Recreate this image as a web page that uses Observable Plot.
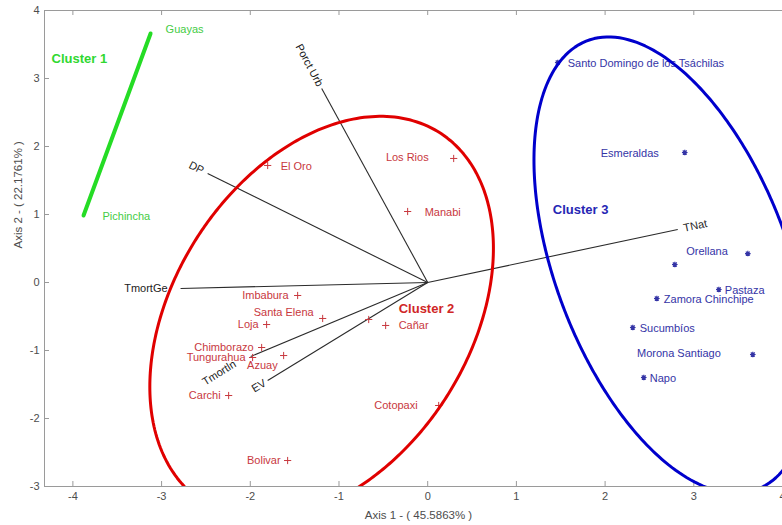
<!DOCTYPE html>
<html>
<head>
<meta charset="utf-8">
<script src="https://cdn.jsdelivr.net/npm/d3@7"></script>
<script src="https://cdn.jsdelivr.net/npm/@observablehq/plot@0.6"></script>
<style>
  html, body { margin: 0; padding: 0; background: #fff; }
  #chart svg { display: block; }
</style>
</head>
<body>
<div id="chart"></div>
<script>
// ---- Province scores on the first two principal axes ----
const cluster1Names = ["Guayas", "Pichincha"];
const cluster1X = [-3.124, -3.880];
const cluster1Y = [3.662, 0.985];

const cluster2Names = ["El Oro", "Los Rios", "Manabi", "Imbabura", "Santa Elena", "Loja", "",
  "Cañar", "Chimborazo", "Tungurahua", "Azuay", "Carchi", "Cotopaxi", "Bolivar"];
const cluster2X = [-1.804, 0.293, -0.226, -1.466, -1.184, -1.816, -0.665,
  -0.474, -1.872, -1.974, -1.624, -2.244, 0.124, -1.579];
const cluster2Y = [1.721, 1.824, 1.044, -0.191, -0.529, -0.618, -0.544,
  -0.632, -0.956, -1.103, -1.074, -1.662, -1.809, -2.618];

const cluster3Names = ["Santo Domingo de los Tsáchilas", "Esmeraldas", "Orellana", "",
  "Pastaza", "Zamora Chinchipe", "Sucumbíos", "Morona Santiago", "Napo"];
const cluster3X = [1.466, 2.898, 3.609, 2.786, 3.282, 2.583, 2.312, 3.665, 2.436];
const cluster3Y = [3.235, 1.912, 0.426, 0.265, -0.103, -0.235, -0.662, -1.059, -1.397];

// ---- Variable loadings (biplot vectors) ----
const vectorNames = ["Porct Urb", "DP", "TmortGe", "TNat", "Tmortln", "EV"];
const vectorX = [-1.195, -2.481, -2.786, 2.819, -1.996, -1.804];
const vectorY = [2.853, 1.603, -0.088, 0.779, -1.088, -1.441];

// ---- Points sampled on each cluster boundary (an ellipse is fitted through them) ----
const redBoundaryX = [-2.729, -2.932, -3.079, -3.101, -3.045, -2.921, -2.729, -2.447, -2.131, -1.996,
  -1.771, -1.624, -1.320, -0.981, -0.496, -0.192, 0.113, 0.485, 0.688, 0.756, 0.744, 0.632, 0.406,
  0.124, -0.305, -0.733];
const redBoundaryY = [-3.0, -2.721, -2.221, -1.662, -0.750, -0.118, 0.471, 0.912, 1.382, 1.544,
  1.838, 2.044, 2.206, 2.338, 2.426, 2.397, 2.235, 1.691, 0.956, 0.471, 0.206, -0.515, -1.250,
  -1.809, -2.471, -3.0];

const blueBoundaryX = [3.192, 2.628, 2.177, 1.725, 1.421, 1.331, 1.241, 1.207, 1.274, 1.466, 1.804,
  2.086, 2.549, 2.932, 3.304, 3.677, 4.004, 3.812, 4.004];
const blueBoundaryY = [-3.0, -2.574, -1.985, -1.0, -0.015, 0.618, 1.206, 1.794, 2.676, 3.235, 3.603,
  3.632, 3.412, 3.015, 2.426, 1.691, 0.956, -3.0, -2.721];

// ---- Cluster captions ----
const clusterCaptions = ["Cluster 1", "Cluster 2", "Cluster 3"];
const clusterCaptionX = [-4.240, -0.327, 1.410];
const clusterCaptionY = [3.294, -0.382, 1.070];

// ---- Axes ----
const xTicks = [-4, -3, -2, -1, 0, 1, 2, 3, 4];
const yTicks = [-3, -2, -1, 0, 1, 2, 3, 4];
const xTitle = "Axis 1 - ( 45.5863% )";
const yTitle = "Axis 2 - ( 22.1761% )";

// ---- Layout ----
const W = 782, H = 525;
const M = {top: 10, right: 0, bottom: 39, left: 44};
const xDomain = [-4.32, 4.0];
const yDomain = [-3, 4];
const kx = (W - M.left - M.right) / (xDomain[1] - xDomain[0]); // px per unit
const ky = (H - M.top - M.bottom) / (yDomain[1] - yDomain[0]);

// label placement for each province: [anchor, dx px, dy px]
const labelPlacement = {
  "Guayas": ["start", 15, -4], "Pichincha": ["start", 19, 1],
  "El Oro": ["start", 13, 1], "Los Rios": ["end", -25, -1], "Manabi": ["start", 17, 1],
  "Imbabura": ["end", -9, 0], "Santa Elena": ["end", -9, -6], "Loja": ["end", -8, 0],
  "Cañar": ["start", 13, 0], "Chimborazo": ["end", -8, 0], "Tungurahua": ["end", -7, 0],
  "Azuay": ["end", -6, 10], "Carchi": ["end", -8, 0], "Cotopaxi": ["end", -21, 0],
  "Bolivar": ["end", -7, 0],
  "Santo Domingo de los Tsáchilas": ["start", 10, 1], "Esmeraldas": ["end", -26, 1],
  "Orellana": ["end", -20, -2], "Pastaza": ["start", 6, 1], "Zamora Chinchipe": ["start", 7, 1],
  "Sucumbíos": ["start", 7, 1], "Morona Santiago": ["end", -32, -1], "Napo": ["start", 6, 1]
};
// vector label gap (px beyond the tip) and rotation (deg)
const vectorLabelGap = [3, 5, 13, 6, 17, 3];
const vectorLabelRotate = [62, 27, 0, -12, -32, -32];

const colors = {
  axis: "#9a9a9a", tickText: "#4d4d4d", vector: "#2b2b2b",
  green: "#25dc25", greenText: "#45cc45", greenCaption: "#30d830",
  red: "#e00000", redText: "#c8383e", redCaption: "#d02626",
  blue: "#0000cc", blueText: "#3434a6", blueCaption: "#2626b4"
};

const rows = (names, xs, ys) => names.map((name, i) => ({name, x: xs[i], y: ys[i]}));
const pts1 = rows(cluster1Names, cluster1X, cluster1Y);
const pts2 = rows(cluster2Names, cluster2X, cluster2Y);
const pts3 = rows(cluster3Names, cluster3X, cluster3Y);

// Least-squares conic a u² + b uv + c v² + d u + e v = 1 (in pixel-scaled units),
// returned as a closed outline in data coordinates.
function fitEllipse(xs, ys, steps = 360) {
  const s = 100;
  const N = Array.from({length: 5}, () => new Array(5).fill(0));
  const rhs = new Array(5).fill(0);
  xs.forEach((x, i) => {
    const u = x * kx / s, v = ys[i] * ky / s;
    const row = [u * u, u * v, v * v, u, v];
    for (let j = 0; j < 5; j++) {
      rhs[j] += row[j];
      for (let k = 0; k < 5; k++) N[j][k] += row[j] * row[k];
    }
  });
  // Gaussian elimination
  const A = N.map((r, i) => [...r, rhs[i]]);
  for (let col = 0; col < 5; col++) {
    let piv = col;
    for (let r = col + 1; r < 5; r++) if (Math.abs(A[r][col]) > Math.abs(A[piv][col])) piv = r;
    [A[col], A[piv]] = [A[piv], A[col]];
    for (let r = 0; r < 5; r++) {
      if (r === col) continue;
      const f = A[r][col] / A[col][col];
      for (let c = col; c < 6; c++) A[r][c] -= f * A[col][c];
    }
  }
  const [a, b, c, d, e] = A.map((r, i) => r[5] / r[i]);
  const det = 4 * a * c - b * b;
  const u0 = (b * e - 2 * c * d) / det, v0 = (b * d - 2 * a * e) / det;
  const k = 1 - (a * u0 * u0 + b * u0 * v0 + c * v0 * v0 + d * u0 + e * v0);
  const out = [];
  for (let i = 0; i <= steps; i++) {
    const t = (2 * Math.PI * i) / steps, w0 = Math.cos(t), w1 = Math.sin(t);
    const rr = Math.sqrt(k / (a * w0 * w0 + b * w0 * w1 + c * w1 * w1));
    out.push({x: (u0 + rr * w0) * s / kx, y: (v0 + rr * w1) * s / ky});
  }
  return out;
}
const redOutline = fitEllipse(redBoundaryX, redBoundaryY);
const blueOutline = fitEllipse(blueBoundaryX, blueBoundaryY);

const labelRows = (pts) => pts.filter(d => d.name).map(d => {
  const [anchor, dx, dy] = labelPlacement[d.name];
  return {name: d.name, anchor, x: d.x + dx / kx, y: d.y - dy / ky};
});

const vectors = vectorNames.map((name, i) => {
  const vx = vectorX[i], vy = vectorY[i];
  const px = vx * kx, py = -vy * ky;
  const len = Math.hypot(px, py);
  const g = vectorLabelGap[i];
  return {
    name, x: vx, y: vy,
    lx: vx + (px / len) * g / kx,
    ly: vy - (py / len) * g / ky,
    rotate: vectorLabelRotate[i],
    anchor: vx < 0 ? "end" : "start"
  };
});

// thin plus marker and MATLAB-style asterisk marker
const plusSymbol = {draw(ctx, size) {
  const r = Math.sqrt(size / Math.PI);
  ctx.moveTo(-r, 0); ctx.lineTo(r, 0); ctx.moveTo(0, -r); ctx.lineTo(0, r);
}};
const starSymbol = {draw(ctx, size) {
  const r = Math.sqrt(size / Math.PI), s = r * 0.7071;
  ctx.moveTo(-r, 0); ctx.lineTo(r, 0); ctx.moveTo(0, -r); ctx.lineTo(0, r);
  ctx.moveTo(-s, -s); ctx.lineTo(s, s); ctx.moveTo(-s, s); ctx.lineTo(s, -s);
}};

const textMarks = (pts, fill) => {
  const lab = labelRows(pts);
  return ["start", "end"].map(a => Plot.text(lab.filter(d => d.anchor === a), {
    x: "x", y: "y", text: "name", textAnchor: a, fill, fontSize: 11
  }));
};

const tick = 5;
const chart = Plot.plot({
  width: W, height: H,
  marginTop: M.top, marginRight: M.right, marginBottom: M.bottom, marginLeft: M.left,
  x: {domain: xDomain, label: null},
  y: {domain: yDomain, label: null},
  style: {fontFamily: "'Liberation Sans', Arial, Helvetica, sans-serif", fontSize: "11px", background: "#fff"},
  marks: [
    // frame and inward ticks
    Plot.frame({stroke: colors.axis, strokeWidth: 1}),
    Plot.ruleX(xTicks, {x: d => d, y1: yDomain[0], y2: yDomain[0] + tick / ky, stroke: colors.axis}),
    Plot.ruleX(xTicks, {x: d => d, y1: yDomain[1], y2: yDomain[1] - tick / ky, stroke: colors.axis}),
    Plot.ruleY(yTicks, {y: d => d, x1: xDomain[0], x2: xDomain[0] + tick / kx, stroke: colors.axis}),
    Plot.axisX({ticks: xTicks, tickSize: 0, tickPadding: 6, tickFormat: d => String(d), label: null,
      fill: colors.tickText, fontSize: 11}),
    Plot.axisY({ticks: yTicks, tickSize: 0, tickPadding: 5, tickFormat: d => String(d), label: null,
      fill: colors.tickText, fontSize: 11}),
    Plot.text([xTitle], {frameAnchor: "bottom", dy: 32, dx: 5, text: d => d, fill: colors.tickText, fontSize: 11.5}),
    Plot.text([yTitle], {frameAnchor: "left", dx: -26, rotate: -90, text: d => d, fill: colors.tickText, fontSize: 11.5}),

    // loading vectors
    Plot.link(vectors, {x1: 0, y1: 0, x2: "x", y2: "y", stroke: colors.vector, strokeWidth: 1.1}),
    ...["start", "end"].map(a => Plot.text(vectors.filter(d => d.anchor === a), {
      x: "lx", y: "ly", text: "name", rotate: "rotate", textAnchor: a, fill: "#222", fontSize: 11
    })),

    // province markers
    Plot.dot(pts2, {x: "x", y: "y", symbol: plusSymbol, r: 3.6, fill: "none", stroke: colors.redText, strokeWidth: 1}),
    Plot.dot(pts3, {x: "x", y: "y", symbol: starSymbol, r: 2.8, fill: "none", stroke: colors.blueText, strokeWidth: 1.2}),

    // province labels
    ...textMarks(pts1, colors.greenText),
    ...textMarks(pts2, colors.redText),
    ...textMarks(pts3, colors.blueText),

    // cluster outlines
    Plot.line(pts1, {x: "x", y: "y", stroke: colors.green, strokeWidth: 4}),
    Plot.line(redOutline, {x: "x", y: "y", stroke: colors.red, strokeWidth: 3, clip: true}),
    Plot.line(blueOutline, {x: "x", y: "y", stroke: colors.blue, strokeWidth: 3, clip: true}),

    // cluster captions
    Plot.text(clusterCaptions.map((c, i) => ({c, x: clusterCaptionX[i], y: clusterCaptionY[i],
      fill: [colors.greenCaption, colors.redCaption, colors.blueCaption][i]})), {
      x: "x", y: "y", text: "c", fill: "fill", textAnchor: "start", fontWeight: "bold", fontSize: 13
    })
  ]
});
document.getElementById("chart").appendChild(chart);
</script>
</body>
</html>
